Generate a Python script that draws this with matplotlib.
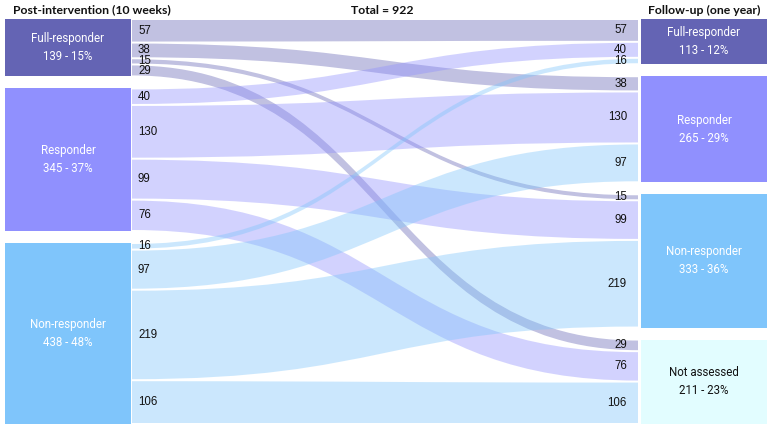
"""Sankey of response status: post-intervention vs one-year follow-up."""

import numpy as np
import matplotlib.pyplot as plt
from matplotlib.path import Path
from matplotlib.patches import PathPatch, Rectangle

# data
left_names = ["Full-responder", "Responder", "Non-responder"]
right_names = ["Full-responder", "Responder", "Non-responder", "Not assessed"]
# flows[i][j]: left node i -> right node j
flows = [
    [57, 38, 15, 29],
    [40, 130, 99, 76],
    [16, 97, 219, 106],
]
left_title = "Post-intervention (10 weeks)"
right_title = "Follow-up (one year)"

left_colors = ["#6464b4", "#9090fe", "#7fc5fb"]
right_colors = ["#6464b4", "#9090fe", "#7fc5fb", "#e2fdff"]
right_text_colors = ["white", "white", "white", "#111111"]
link_alpha = 0.4

# layout (pixel units, figure is 771 x 430)
W, H = 771, 430
top, bottom = 19, 424
gap = 12
node_w = 126
lx0 = 5
rx0 = 641
link_x0 = lx0 + node_w + 1
link_x1 = rx0 - 3
min_sep = 10.5  # min vertical distance between value labels

flows = np.array(flows)
left_tot = flows.sum(axis=1)
right_tot = flows.sum(axis=0)
total = flows.sum()


def stack(totals):
    scale = (bottom - top - gap * (len(totals) - 1)) / totals.sum()
    ys = []
    y = top
    for t in totals:
        ys.append(y)
        y += t * scale + gap
    return np.array(ys), scale


def spread(centers):
    """Push label centers apart so they don't collide."""
    c = list(centers)
    for _ in range(20):
        for k in range(1, len(c)):
            d = c[k] - c[k - 1]
            if d < min_sep:
                shift = (min_sep - d) / 2
                c[k - 1] -= shift
                c[k] += shift
    return c


ly, ls = stack(left_tot)
ry, rs = stack(right_tot)

fig = plt.figure(figsize=(W / 100, H / 100), dpi=100)
ax = fig.add_axes([0, 0, 1, 1])
ax.set_xlim(0, W)
ax.set_ylim(H, 0)
ax.axis("off")

num_font = dict(family="Liberation Sans", fontsize=8.3, color="#111111")
node_font = dict(family="Roboto", fontsize=8.3)

# right-side offsets: links ordered by source within each target
r_pos = np.zeros_like(flows, dtype=float)
for j in range(flows.shape[1]):
    y = ry[j]
    for i in range(flows.shape[0]):
        r_pos[i, j] = y
        y += flows[i, j] * rs

pad = 1.0
xm = (link_x0 + link_x1) / 2
codes = [Path.MOVETO, Path.CURVE4, Path.CURVE4, Path.CURVE4,
         Path.LINETO, Path.CURVE4, Path.CURVE4, Path.CURVE4,
         Path.CLOSEPOLY]
left_labels = []
right_labels = []
for i in range(flows.shape[0]):
    y = ly[i]
    for j in range(flows.shape[1]):
        v = flows[i, j]
        a0, a1 = y + pad, y + v * ls - pad
        b0, b1 = r_pos[i, j] + pad, r_pos[i, j] + v * rs - pad
        verts = [
            (link_x0, a0), (xm, a0), (xm, b0), (link_x1, b0),
            (link_x1, b1), (xm, b1), (xm, a1), (link_x0, a1),
            (link_x0, a0),
        ]
        ax.add_patch(PathPatch(Path(verts, codes), facecolor=left_colors[i],
                               alpha=link_alpha, edgecolor="none"))
        left_labels.append((y + v * ls / 2, v))
        right_labels.append((r_pos[i, j] + v * rs / 2, v))
        y += v * ls

left_labels.sort()
right_labels.sort()
for yc, (_, v) in zip(spread([p for p, _ in left_labels]), left_labels):
    ax.text(link_x0 + 6, yc, str(v), ha="left", va="center", **num_font)
for yc, (_, v) in zip(spread([p for p, _ in right_labels]), right_labels):
    ax.text(link_x1 - 11, yc, str(v), ha="right", va="center", **num_font)

# nodes
for i, name in enumerate(left_names):
    h = left_tot[i] * ls
    ax.add_patch(Rectangle((lx0, ly[i]), node_w, h, facecolor=left_colors[i],
                           edgecolor="none"))
    pct = round(100 * left_tot[i] / total)
    ax.text(lx0 + node_w / 2, ly[i] + h / 2, f"{name}\n{left_tot[i]} - {pct}%",
            ha="center", va="center", color="white", linespacing=1.5,
            **node_font)

for j, name in enumerate(right_names):
    h = right_tot[j] * rs
    ax.add_patch(Rectangle((rx0, ry[j]), node_w, h, facecolor=right_colors[j],
                           edgecolor="none"))
    pct = round(100 * right_tot[j] / total)
    ax.text(rx0 + node_w / 2, ry[j] + h / 2, f"{name}\n{right_tot[j]} - {pct}%",
            ha="center", va="center", color=right_text_colors[j],
            linespacing=1.5, **node_font)

# headers
head_font = dict(family="Lato", fontsize=8.8, fontweight="bold", color="#111111")
ax.text(13, 10, left_title, ha="left", va="center", **head_font)
ax.text(382, 10, f"Total = {total}", ha="center", va="center", **head_font)
ax.text(rx0 + node_w / 2, 10, right_title, ha="center", va="center",
        **head_font)

fig.savefig("out.png", dpi=100)
